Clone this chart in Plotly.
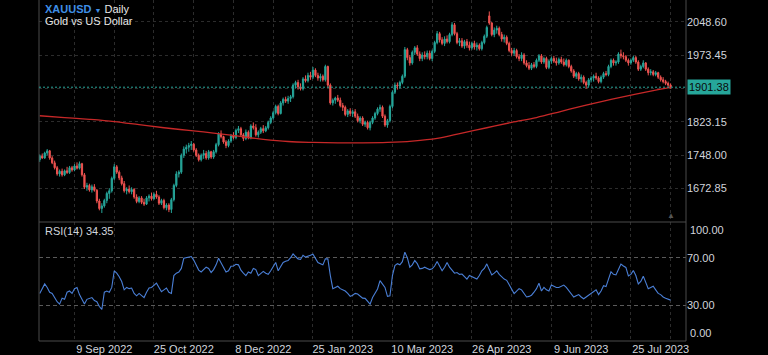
import plotly.graph_objects as go

# ---------------- data ----------------
opens = [
    1738,1746,1742,1753,1758,1742,1731,1720,1706,1712,
    1704,1713,1709,1720,1715,1724,1719,1729,1704,1676,
    1680,1670,1677,1669,1645,1628,1634,1646,1662,1668,
    1696,1722,1710,1697,1684,1668,1672,1666,1671,1654,
    1644,1652,1642,1638,1652,1656,1650,1660,1654,1640,
    1646,1630,1636,1626,1648,1680,1706,1710,1748,1762,
    1766,1770,1773,1760,1748,1738,1748,1752,1742,1756,
    1744,1756,1772,1796,1790,1778,1770,1780,1792,1788,
    1804,1808,1794,1786,1800,1788,1814,1810,1794,1800,
    1808,1803,1810,1822,1832,1844,1858,1842,1866,1874,
    1870,1876,1880,1906,1912,1902,1898,1920,1916,1928,
    1924,1940,1928,1922,1926,1918,1948,1906,1866,1872,
    1877,1872,1860,1856,1840,1848,1842,1846,1836,1826,
    1832,1818,1822,1810,1822,1832,1842,1852,1856,1836,
    1816,1826,1858,1890,1906,1904,1912,1926,1986,1968,
    1956,1980,1990,1976,1966,1974,1970,1978,1966,1982,
    2002,2022,2008,2000,2010,2004,2020,2042,2022,2002,
    2006,1994,2004,1996,1990,2000,1992,1996,1988,2002,
    2016,2062,2046,2020,2030,2034,2020,2010,2014,2000,
    1984,1978,1984,1970,1966,1974,1956,1950,1944,1952,
    1948,1962,1972,1958,1966,1946,1960,1966,1960,1956,
    1964,1958,1952,1962,1948,1938,1926,1932,1920,1924,
    1912,1906,1918,1922,1926,1922,1914,1924,1932,1930,
    1948,1962,1956,1958,1976,1972,1970,1962,1956,1962,
    1968,1958,1942,1948,1956,1942,1934,1936,1930,1934,
    1924,1918,1914,1910,1906,
]
highs = [
    1750,1752,1756,1762,1760,1746,1736,1724,1716,1718,
    1716,1722,1724,1724,1728,1732,1734,1731,1708,1686,
    1684,1682,1683,1672,1650,1640,1650,1666,1674,1700,
    1728,1726,1714,1702,1690,1676,1680,1676,1674,1660,
    1656,1656,1650,1656,1660,1664,1664,1668,1658,1650,
    1650,1640,1640,1652,1684,1712,1714,1752,1768,1772,
    1776,1780,1776,1764,1752,1752,1760,1758,1760,1758,
    1760,1776,1800,1804,1792,1782,1784,1796,1800,1808,
    1814,1812,1798,1806,1804,1818,1822,1818,1804,1812,
    1816,1814,1826,1836,1848,1862,1862,1870,1878,1880,
    1882,1884,1910,1916,1918,1910,1924,1928,1934,1936,
    1947,1944,1934,1932,1930,1952,1950,1910,1876,1880,
    1884,1878,1866,1860,1852,1854,1850,1852,1842,1836,
    1836,1826,1826,1826,1836,1846,1856,1862,1860,1840,
    1830,1862,1894,1912,1912,1916,1930,1992,1990,1974,
    1984,1994,1996,1982,1980,1982,1984,1984,1986,2006,
    2028,2026,2014,2016,2018,2024,2048,2046,2026,2012,
    2012,2008,2010,2004,2004,2006,2002,2000,2006,2020,
    2040,2072,2048,2036,2040,2038,2026,2020,2018,2004,
    1990,1990,1988,1976,1980,1978,1962,1958,1956,1958,
    1966,1976,1976,1970,1970,1964,1970,1972,1968,1968,
    1970,1966,1966,1964,1952,1942,1936,1936,1930,1928,
    1916,1922,1926,1930,1934,1926,1928,1936,1938,1952,
    1966,1966,1962,1980,1986,1980,1974,1966,1966,1972,
    1972,1962,1952,1962,1958,1946,1942,1940,1938,1936,
    1928,1924,1918,1914,1910,
]
lows = [
    1733,1740,1740,1748,1738,1728,1716,1702,1700,1700,
    1701,1706,1706,1711,1712,1716,1716,1700,1672,1668,
    1666,1664,1666,1640,1624,1618,1630,1640,1650,1664,
    1692,1706,1692,1680,1664,1660,1662,1660,1650,1640,
    1640,1638,1634,1636,1644,1646,1648,1650,1636,1636,
    1626,1624,1620,1618,1644,1676,1698,1706,1742,1752,
    1756,1760,1756,1744,1734,1734,1740,1738,1738,1740,
    1740,1752,1768,1786,1774,1764,1766,1776,1784,1784,
    1798,1790,1780,1782,1784,1784,1806,1790,1788,1796,
    1798,1800,1806,1818,1828,1840,1838,1840,1860,1866,
    1864,1868,1876,1898,1896,1894,1894,1912,1912,1918,
    1920,1924,1916,1914,1914,1914,1900,1862,1860,1864,
    1868,1856,1848,1836,1834,1836,1834,1832,1822,1820,
    1814,1812,1806,1804,1818,1828,1838,1846,1832,1812,
    1810,1822,1854,1886,1896,1898,1908,1922,1962,1950,
    1952,1974,1972,1960,1960,1964,1964,1962,1960,1978,
    1998,2002,1996,1994,2000,2000,2016,2018,1998,1994,
    1990,1988,1990,1984,1986,1986,1984,1984,1984,1998,
    2012,2042,2016,2014,2022,2016,2004,2002,1996,1980,
    1972,1972,1966,1960,1960,1952,1946,1940,1940,1944,
    1944,1958,1954,1954,1942,1942,1954,1956,1950,1952,
    1954,1948,1948,1944,1934,1922,1920,1916,1912,1908,
    1898,1902,1912,1914,1918,1910,1910,1920,1926,1926,
    1944,1950,1950,1954,1966,1964,1958,1950,1952,1958,
    1954,1938,1938,1944,1938,1928,1928,1926,1926,1920,
    1914,1910,1906,1902,1898,
]
closes = [
    1746,1742,1753,1758,1742,1731,1720,1706,1712,1704,
    1713,1709,1720,1715,1724,1719,1729,1704,1676,1680,
    1670,1677,1669,1645,1628,1634,1646,1662,1668,1696,
    1722,1710,1697,1684,1668,1672,1666,1671,1654,1644,
    1652,1642,1638,1652,1656,1650,1660,1654,1640,1646,
    1630,1636,1626,1648,1680,1706,1710,1748,1762,1766,
    1770,1773,1760,1748,1738,1748,1752,1742,1756,1744,
    1756,1772,1796,1790,1778,1770,1780,1792,1788,1804,
    1808,1794,1786,1800,1788,1814,1810,1794,1800,1808,
    1803,1810,1822,1832,1844,1858,1842,1866,1874,1870,
    1876,1880,1906,1912,1902,1898,1920,1916,1928,1924,
    1940,1928,1922,1926,1918,1948,1906,1866,1872,1877,
    1872,1860,1856,1840,1848,1842,1846,1836,1826,1832,
    1818,1822,1810,1822,1832,1842,1852,1856,1836,1816,
    1826,1858,1890,1906,1904,1912,1926,1986,1968,1956,
    1980,1990,1976,1966,1974,1970,1978,1966,1982,2002,
    2022,2008,2000,2010,2004,2020,2042,2022,2002,2006,
    1994,2004,1996,1990,2000,1992,1996,1988,2002,2016,
    2036,2046,2020,2030,2034,2020,2010,2014,2000,1984,
    1978,1984,1970,1966,1974,1956,1950,1944,1952,1948,
    1962,1972,1958,1966,1946,1960,1966,1960,1956,1964,
    1958,1952,1962,1948,1938,1926,1932,1920,1924,1912,
    1906,1918,1922,1926,1922,1914,1924,1932,1930,1948,
    1962,1956,1958,1976,1972,1970,1962,1956,1962,1968,
    1958,1942,1948,1956,1942,1934,1936,1930,1934,1924,
    1918,1914,1910,1906,1901.38,
]
rsi_values = [
    40,44,48,45,41,40,36,33,31,36,
    35,41,42,40,44,45,39,35,31,35,
    36,36.5,34,33,29,26.5,41,42,41,45,
    59,57,54,50,43,45,44,44.5,40,38,
    40,38,36.5,41,44.5,45,47,48.6,45,41.5,
    43,44.5,41,40,55,57,58,61,69.5,70,
    71,71,68,63,59.6,58,60,62,61,57.6,
    60,64,69.5,66,62,58,59,62.8,63,64.5,
    64,59.5,57,55,58,57,61,60,55,57,
    58.5,57,56,59,62,66,59,63,66,67,
    67.6,70,73.2,71,69,68.5,72,70.5,71,72,
    73,70,66,65,64,69,69,55,44,45,
    46,44,43,42,40,37.5,38.5,40,39.5,38,
    36,35.8,33,31,36.6,40,43.7,50.7,48,45,
    37.5,38,55,63.4,65,64,66.7,74.6,70,62,
    64,67.6,65,60.6,61,62,61,60,60.6,63,
    66.8,63,59,62,66,62,59,57,57.5,56,
    56.3,54,52,55,54,53,52,55,59,61,
    64.8,60,55.5,57,59,56,53.7,52,51,47,
    44,39.9,42,44,43,40,37,37.5,38.5,41,
    44,48.6,42,45,43,42,47,46,45,45,
    46,47,45,42,40,37,38,39,37,35.5,
    37,38.5,40,41.2,43,39,42,46.5,45.7,52,
    58.2,56,55.5,60,64.6,63,61.8,54.7,56,59.3,
    55,47.9,50,54.5,49,44,45,46,43,40,
    39,37,36,35.5,34.35,
]
ma_bars = [0,10,20,30,40,50,60,70,80,90,100,110,120,130,140,150,160,170,
           180,190,200,210,220,230,240,250,254]
ma_values = [1837,1833,1829,1824,1817,1810,1804,1798,1791,1784,1779,1777,1776,
             1776,1777,1780,1786,1798,1810,1822,1833,1847,1861,1874,1886,1897,1901]

price_ticks = [1672.85, 1748.00, 1823.15, 1898.30, 1973.45, 2048.60]
price_ticktext = ["1672.85", "1748.00", "1823.15", "", "1973.45", "2048.60"]
grid_bars = [14,30,46,62,78,94,110,126,142,158,174,190,206,222,238,254]
date_bars = [26,58,90,122,154,186,218,250]
date_labels = ["9 Sep 2022", "25 Oct 2022", "8 Dec 2022", "25 Jan 2023",
               "10 Mar 2023", "26 Apr 2023", "9 Jun 2023", "25 Jul 2023"]
rsi_ticks = [30, 70]
rsi_ticktext = ["30.00", "70.00"]
symbol = "XAUUSD"
interval = "Daily"
description = "Gold vs US Dollar"
rsi_label = "RSI(14) 34.35"
last_label = "1901.38"

bars = list(range(len(closes)))

# ---------------- styling ----------------
FONT = "Liberation Sans, Arial, sans-serif"
TXT = "#d1d4dc"
GRID = "#2c2c2c"
FRAME = "#4a4a4a"
UP = "#26a69a"
DOWN = "#ef5350"

W, H = 768, 355
ML, MR, MT, MB = 39, 82, 0, 14
PH = H - MT - MB          # plot height in px
SPLIT = 1 - 222 / PH      # pane separator (paper y)

fig = go.Figure()

fig.add_trace(go.Candlestick(
    x=bars, open=opens, high=highs, low=lows, close=closes,
    increasing=dict(line=dict(color=UP, width=1), fillcolor=UP),
    decreasing=dict(line=dict(color=DOWN, width=1), fillcolor=DOWN),
    whiskerwidth=0, hoverinfo="skip", xaxis="x", yaxis="y", showlegend=False,
))
fig.add_trace(go.Scatter(
    x=ma_bars, y=ma_values, mode="lines", line=dict(color="#c62828", width=1.3),
    line_shape="spline", hoverinfo="skip", xaxis="x", yaxis="y", showlegend=False,
))
fig.add_trace(go.Scatter(
    x=bars, y=rsi_values, mode="lines", line=dict(color="#4a7fd6", width=1.1),
    hoverinfo="skip", xaxis="x2", yaxis="y2", showlegend=False,
))

xrange = [-0.3, 260.2]

fig.update_layout(
    width=W, height=H,
    margin=dict(l=ML, r=MR, t=MT, b=MB, pad=0, autoexpand=False),
    paper_bgcolor="#000000", plot_bgcolor="#000000",
    font=dict(family=FONT, size=11, color=TXT),
    xaxis=dict(domain=[0, 1], anchor="y", range=xrange, tickmode="array",
               tickvals=grid_bars, showticklabels=False, showgrid=True,
               gridcolor=GRID, griddash="3px,3px", gridwidth=1, zeroline=False,
               showline=False, ticks="", rangeslider=dict(visible=False),
               fixedrange=True),
    xaxis2=dict(domain=[0, 1], anchor="y2", matches="x", range=xrange,
                tickmode="array", tickvals=date_bars, ticktext=date_labels,
                showgrid=False, zeroline=False, showline=False, ticks="",
                tickfont=dict(size=11, color=TXT),
                minor=dict(tickmode="array", tickvals=grid_bars, showgrid=True,
                           gridcolor=GRID, griddash="3px,3px", gridwidth=1, ticks=""),
                fixedrange=True),
    yaxis=dict(domain=[SPLIT, 1], anchor="x", side="right",
               range=[1597.7, 2097.8], tickmode="array", tickvals=price_ticks,
               ticktext=price_ticktext, showgrid=True, gridcolor=GRID,
               griddash="3px,3px", gridwidth=1, zeroline=False, showline=False,
               ticks="", tickfont=dict(size=11, color=TXT), fixedrange=True),
    yaxis2=dict(domain=[0, SPLIT], anchor="x2", side="right", range=[0, 100],
                tickmode="array", tickvals=rsi_ticks, ticktext=rsi_ticktext,
                showgrid=True, gridcolor="#5a5a5a", griddash="4px,3px",
                gridwidth=1, zeroline=False, showline=False, ticks="",
                tickfont=dict(size=11, color=TXT), fixedrange=True),
)

# frame lines
shapes = [
    dict(type="line", xref="paper", yref="paper", x0=0, x1=0, y0=0, y1=1,
         line=dict(color=FRAME, width=1)),
    dict(type="line", xref="paper", yref="paper", x0=1, x1=1, y0=0, y1=1,
         line=dict(color=FRAME, width=1)),
    dict(type="line", xref="paper", yref="paper", x0=0, x1=1, y0=0, y1=0,
         line=dict(color=FRAME, width=1)),
    dict(type="line", xref="paper", yref="paper", x0=0, x1=1, y0=SPLIT, y1=SPLIT,
         line=dict(color=FRAME, width=1)),
    dict(type="line", xref="paper", yref="y", x0=0, x1=1,
         y0=closes[-1], y1=closes[-1],
         line=dict(color=UP, width=1, dash="2px,2px")),
]
fig.update_layout(shapes=shapes)

def px_x(px):
    return (px - ML) / (W - ML - MR)

def px_y(py):
    return 1 - (py - MT) / PH

annotations = [
    dict(xref="paper", yref="paper", x=px_x(43), y=px_y(9), xanchor="left",
         yanchor="middle", showarrow=False,
         text=("<b><span style='color:#3f8fe6'>" + symbol + "</span></b>"
               " <span style='color:#3f8fe6;font-size:7px'>▼</span> " + interval),
         font=dict(size=11, color="#e8e8e8")),
    dict(xref="paper", yref="paper", x=px_x(43), y=px_y(21.5), xanchor="left",
         yanchor="middle", showarrow=False, text=description,
         font=dict(size=11, color="#e8e8e8")),
    dict(xref="paper", yref="paper", x=px_x(43), y=px_y(231), xanchor="left",
         yanchor="middle", showarrow=False, text=rsi_label,
         font=dict(size=11, color=TXT)),
    dict(xref="paper", yref="y", x=1, y=closes[-1], xanchor="left",
         yanchor="middle", xshift=1, showarrow=False, text=last_label,
         bgcolor=UP, borderpad=1, font=dict(size=11, color="#0a0a0a")),
    dict(xref="paper", yref="y2", x=1, y=100, xanchor="left", yanchor="top",
         xshift=2, showarrow=False, text="100.00", font=dict(size=11, color=TXT)),
    dict(xref="paper", yref="y2", x=1, y=0, xanchor="left", yanchor="bottom",
         xshift=2, showarrow=False, text="0.00", font=dict(size=11, color=TXT)),
    dict(xref="x", yref="paper", x=bars[-1], y=SPLIT, xanchor="center",
         yanchor="bottom", yshift=0, showarrow=False, text="▲",
         font=dict(size=8, color="#555555")),
]
fig.update_layout(annotations=annotations)

fig.write_html(
    "out.html",
    config={"displayModeBar": False, "staticPlot": True},
    post_script="document.body.style.margin='0';document.body.style.background='#000';",
)
